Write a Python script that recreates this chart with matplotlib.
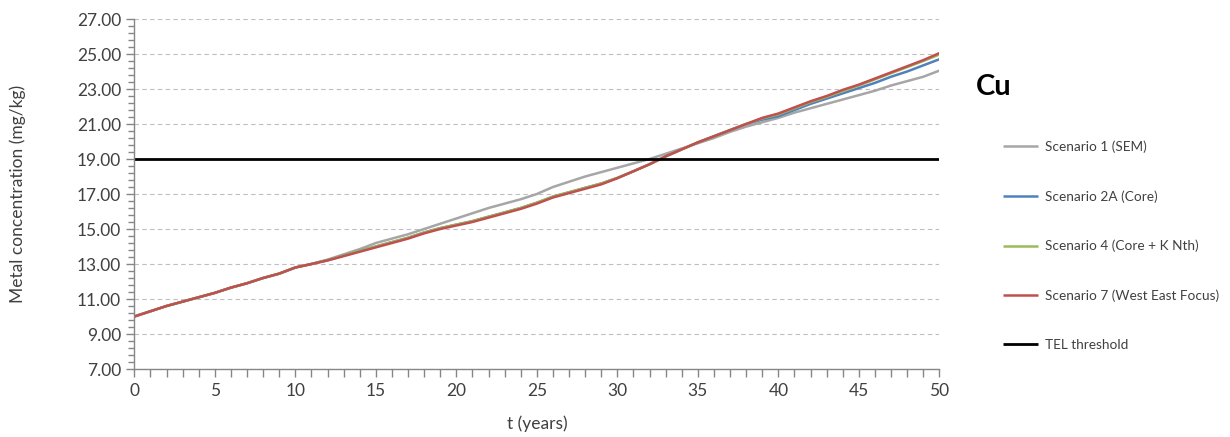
import matplotlib
matplotlib.use("Agg")
import matplotlib.pyplot as plt
import numpy as np
from matplotlib.ticker import FormatStrFormatter

plt.rcParams['font.family'] = ['Lato', 'DejaVu Sans']

years = list(range(0, 51))

scenario_1 = [10.00, 10.30, 10.60, 10.85, 11.10, 11.35, 11.65, 11.90, 12.20, 12.45,
              12.80, 13.00, 13.25, 13.55, 13.85, 14.20, 14.45, 14.70, 15.00, 15.30,
              15.60, 15.90, 16.20, 16.45, 16.70, 17.00, 17.40, 17.70, 18.00, 18.25,
              18.50, 18.75, 19.00, 19.30, 19.60, 19.90, 20.20, 20.55, 20.85, 21.10,
              21.35, 21.65, 21.90, 22.15, 22.40, 22.65, 22.90, 23.20, 23.45, 23.70,
              24.05]

scenario_2a = [10.00, 10.30, 10.60, 10.85, 11.10, 11.35, 11.65, 11.90, 12.20, 12.45,
               12.80, 13.00, 13.22, 13.48, 13.75, 14.00, 14.25, 14.50, 14.80, 15.05,
               15.25, 15.45, 15.70, 15.95, 16.20, 16.50, 16.85, 17.10, 17.35, 17.60,
               17.92, 18.30, 18.70, 19.15, 19.55, 19.95, 20.30, 20.65, 21.00, 21.25,
               21.45, 21.80, 22.15, 22.45, 22.75, 23.05, 23.35, 23.70, 24.00, 24.35,
               24.70]

scenario_4 = [10.00, 10.30, 10.60, 10.85, 11.10, 11.35, 11.65, 11.90, 12.20, 12.45,
              12.80, 13.00, 13.22, 13.48, 13.75, 14.00, 14.25, 14.50, 14.80, 15.05,
              15.25, 15.45, 15.70, 15.95, 16.20, 16.50, 16.85, 17.10, 17.35, 17.60,
              17.92, 18.30, 18.70, 19.15, 19.55, 19.95, 20.30, 20.65, 21.00, 21.32,
              21.55, 21.90, 22.25, 22.55, 22.88, 23.20, 23.55, 23.90, 24.25, 24.60,
              24.97]

scenario_7 = [10.00, 10.30, 10.60, 10.85, 11.10, 11.35, 11.65, 11.90, 12.20, 12.45,
              12.80, 13.00, 13.20, 13.45, 13.70, 13.95, 14.20, 14.45, 14.75, 15.00,
              15.20, 15.40, 15.65, 15.90, 16.15, 16.45, 16.80, 17.05, 17.30, 17.55,
              17.90, 18.30, 18.70, 19.15, 19.55, 19.95, 20.30, 20.65, 21.00, 21.35,
              21.60, 21.95, 22.30, 22.60, 22.95, 23.25, 23.60, 23.95, 24.30, 24.65,
              25.05]

tel_threshold = [19.0] * len(years)

y_ticks = [7, 9, 11, 13, 15, 17, 19, 21, 23, 25, 27]
x_ticks = [0, 5, 10, 15, 20, 25, 30, 35, 40, 45, 50]

series_labels = ["Scenario 1 (SEM)", "Scenario 2A (Core)", "Scenario 4 (Core + K Nth)",
                 "Scenario 7 (West East Focus)", "TEL threshold"]
series_colors = ["#A6A6A6", "#4F81BD", "#9BBB59", "#C0504D", "#000000"]

fig = plt.figure(figsize=(12.30, 4.37), dpi=100)
ax = fig.add_axes([0.1092, 0.1556, 0.6545, 0.8009])

all_series = [scenario_1, scenario_2a, scenario_4, scenario_7, tel_threshold]
for vals, lab, col in zip(all_series, series_labels, series_colors):
    lw = 2.0 if lab == "TEL threshold" else 1.8
    ax.plot(years, vals, color=col, lw=lw, label=lab, solid_capstyle='butt')

ax.set_xlim(0, 50)
ax.set_ylim(7, 27)
ax.set_xticks(x_ticks)
ax.set_xticks(np.arange(0, 51, 1), minor=True)
ax.set_yticks(y_ticks)
ax.set_yticks(np.arange(7, 27.01, 0.4), minor=True)
ax.yaxis.set_major_formatter(FormatStrFormatter('%.2f'))

ax.grid(axis='y', which='major', color='#BFBFBF', linestyle=(0, (4, 3)), lw=0.8)
ax.set_axisbelow(True)

for s in ['top', 'right']:
    ax.spines[s].set_visible(False)
for s in ['left', 'bottom']:
    ax.spines[s].set_color('#868686')
    ax.spines[s].set_linewidth(1.0)

ax.tick_params(axis='both', which='major', colors='#868686', labelcolor='#404040',
               labelsize=12.5, length=6, width=1.0)
ax.tick_params(axis='x', which='minor', colors='#868686', length=6, width=1.0)
ax.tick_params(axis='y', which='minor', colors='#868686', length=4, width=1.0)
ax.tick_params(axis='x', which='major', pad=4)

ax.set_xlabel("t (years)", fontsize=12.5, color='#404040', labelpad=12)
ax.set_ylabel("Metal concentration (mg/kg)", fontsize=12.5, color='#404040')
ax.yaxis.set_label_coords(-0.135, 0.5)

fig.text(0.7935, 0.80, "Cu", fontsize=21, fontweight='bold', color='#000000',
         ha='left', va='center')

fig.legend(loc='center left', bbox_to_anchor=(0.8152, 0.4375), frameon=False,
           fontsize=9.8, handlelength=2.6, handletextpad=0.5, labelspacing=2.73,
           borderpad=0, borderaxespad=0, labelcolor='#404040')

fig.savefig("out.png", dpi=100)
